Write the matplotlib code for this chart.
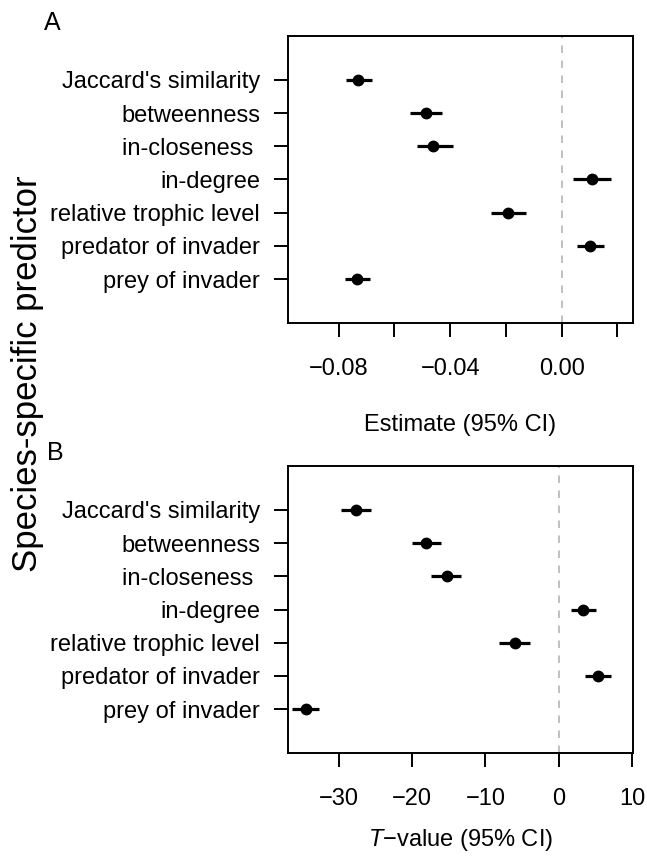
import numpy as np
import matplotlib
matplotlib.use("Agg")
import matplotlib.pyplot as plt

plt.rcParams['font.family'] = ['Liberation Sans', 'DejaVu Sans']
plt.rcParams['mathtext.fontset'] = 'custom'
plt.rcParams['mathtext.it'] = 'Liberation Sans:italic'
plt.rcParams['mathtext.rm'] = 'Liberation Sans'

# predictors, top to bottom
predictors = ["Jaccard's similarity", "betweenness", "in-closeness ", "in-degree",
              "relative trophic level", "predator of invader", "prey of invader"]

# panel A: estimates with 95% CI
est = [-0.0730, -0.0488, -0.0461, 0.0110, -0.0191, 0.0103, -0.0735]
est_lo = [-0.0775, -0.0544, -0.0518, 0.0041, -0.0252, 0.0056, -0.0776]
est_hi = [-0.0679, -0.0428, -0.0391, 0.0177, -0.0128, 0.0152, -0.0689]

# panel B: T-values with 95% CI
tval = [-27.7, -18.1, -15.3, 3.3, -6.0, 5.3, -34.4]
tval_lo = [-29.7, -20.0, -17.4, 1.7, -8.1, 3.6, -36.3]
tval_hi = [-25.6, -16.1, -13.3, 5.0, -3.9, 7.1, -32.7]

a_ticks = [-0.08, -0.06, -0.04, -0.02, 0.00, 0.02]
a_labels = ["\u22120.08", "", "\u22120.04", "", "0.00", ""]
b_ticks = [-30, -20, -10, 0, 10]
b_labels = ["\u221230", "\u221220", "\u221210", "0", "10"]

W, H = 647, 857
fig = plt.figure(figsize=(W / 100, H / 100), dpi=100)


def panel(rect, x, lo, hi, xlim, ticks, labels):
    l, t, r, b = rect
    ax = fig.add_axes([l / W, 1 - b / H, (r - l) / W, (b - t) / H])
    y = np.arange(len(predictors), 0, -1)
    x = np.array(x)
    err = [x - np.array(lo), np.array(hi) - x]
    ax.axvline(0, color="#b5b5b5", lw=1.2, linestyle=(0, (4.5, 4.5)), zorder=1)
    ax.errorbar(x, y, xerr=err, fmt="o", color="black", ms=7.5,
                elinewidth=2.3, capsize=0, zorder=3)
    ax.set_xlim(*xlim)
    ax.set_ylim(-0.32, 8.32)
    ax.set_yticks(y)
    ax.set_yticklabels(predictors, fontsize=17)
    ax.set_xticks(ticks)
    ax.set_xticklabels(labels, fontsize=17)
    for s in ax.spines.values():
        s.set_linewidth(1.4)
    ax.tick_params(axis="x", length=10, width=1.4, pad=15)
    ax.tick_params(axis="y", length=10, width=1.4, pad=10)
    return ax


axA = panel((288, 36, 633, 323), est, est_lo, est_hi, (-0.0982, 0.0256), a_ticks, a_labels)
axB = panel((288, 466, 633, 753), tval, tval_lo, tval_hi, (-36.9, 10.1), b_ticks, b_labels)

fig.text(460.5 / W, 1 - 425 / H, "Estimate (95% CI)", ha="center", va="center", fontsize=17)
fig.text(460.5 / W, 1 - 840 / H, "$T$\u2212value (95% CI)", ha="center", va="center", fontsize=17)
fig.text(28 / W, 1 - 374 / H, "Species-specific predictor", rotation=90,
         ha="center", va="center", fontsize=25)
fig.text(44 / W, 1 - 30 / H, "A", fontsize=18, va="baseline", ha="left")
fig.text(47 / W, 1 - 460 / H, "B", fontsize=18, va="baseline", ha="left")

fig.savefig("out.png", dpi=100)
